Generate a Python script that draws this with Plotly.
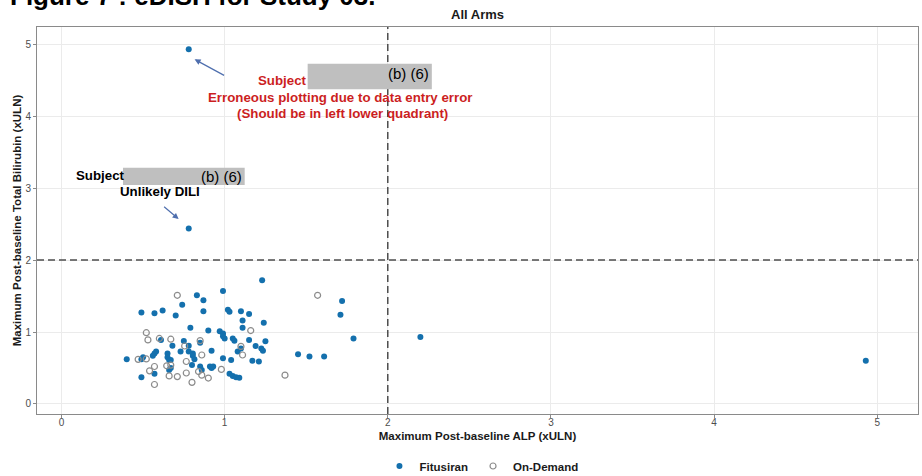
import plotly.graph_objects as go

# ---- data ----
fit_alp = [0.78, 0.78, 4.93, 2.20, 1.23, 0.99, 0.83, 0.87, 0.74, 0.49, 0.57, 0.62, 0.70, 0.87,
           1.02, 1.03, 1.10, 1.15, 1.11, 1.11, 1.24, 0.79, 0.90, 0.97, 0.99, 0.99, 1.00, 1.05,
           1.06, 1.15, 1.25, 0.61, 0.75, 0.68, 0.85, 0.78, 1.19, 1.225, 1.235, 1.08, 1.10, 0.92,
           0.73, 0.78, 0.805, 0.58, 0.57, 0.56, 0.65, 0.65, 0.66, 0.67, 0.40, 0.50, 0.49, 0.99,
           1.04, 1.17, 1.21, 0.805, 0.815, 0.80, 0.85, 0.86, 0.91, 0.92, 0.93, 0.66, 0.67, 1.03,
           1.05, 1.07, 1.09, 0.49, 0.57, 1.72, 1.71, 1.79, 1.45, 1.52, 1.61]
fit_tbl = [4.93, 2.44, 0.60, 0.93, 1.72, 1.57, 1.51, 1.44, 1.38, 1.27, 1.26, 1.30, 1.23, 1.29,
           1.31, 1.28, 1.29, 1.25, 1.16, 1.06, 1.13, 1.06, 1.02, 1.01, 0.98, 0.94, 0.91, 0.91,
           0.88, 0.89, 0.87, 0.89, 0.875, 0.81, 0.85, 0.81, 0.805, 0.77, 0.74, 0.73, 0.77, 0.74,
           0.73, 0.73, 0.70, 0.73, 0.70, 0.67, 0.70, 0.65, 0.61, 0.61, 0.62, 0.65, 0.62, 0.635,
           0.61, 0.60, 0.59, 0.67, 0.62, 0.54, 0.52, 0.47, 0.52, 0.50, 0.52, 0.47, 0.50, 0.42,
           0.39, 0.37, 0.365, 0.37, 0.42, 1.43, 1.24, 0.91, 0.69, 0.66, 0.66]

od_alp = [0.71, 1.57, 0.52, 0.53, 0.60, 0.67, 0.85, 1.16, 0.755, 1.10, 1.11, 0.47, 0.52, 0.86,
          0.765, 0.57, 0.54, 0.645, 0.67, 0.98, 0.66, 0.71, 0.765, 0.84, 0.86, 0.90, 0.80, 0.57, 1.37]
od_tbl = [1.51, 1.51, 0.99, 0.89, 0.91, 0.90, 0.88, 1.02, 0.805, 0.80, 0.68, 0.62, 0.625, 0.68,
          0.59, 0.52, 0.46, 0.53, 0.54, 0.48, 0.39, 0.38, 0.43, 0.45, 0.40, 0.36, 0.30, 0.27, 0.40]

x_ticks = [0, 1, 2, 3, 4, 5]
y_ticks = [0, 1, 2, 3, 4, 5]
alp_cut = 2
tbl_cut = 2

FONT = "Liberation Sans, Arial, sans-serif"
BLUE = "#1470ad"
GREY_PT = "#8c8c8c"
RED = "#cc1f1f"

fig = go.Figure()
fig.add_trace(go.Scatter(x=fit_alp, y=fit_tbl, mode="markers", name="Fitusiran",
                         marker=dict(symbol="circle", size=6, color=BLUE)))
fig.add_trace(go.Scatter(x=od_alp, y=od_tbl, mode="markers", name="On-Demand",
                         marker=dict(symbol="circle-open", size=6, color=GREY_PT,
                                     line=dict(width=1.2, color=GREY_PT))))

# reference lines
fig.add_shape(type="line", xref="x", yref="paper", x0=alp_cut, x1=alp_cut, y0=0, y1=1,
              line=dict(color="#4d4d4d", width=1.5, dash="7px,4px"), layer="above")
fig.add_shape(type="line", xref="paper", yref="y", x0=0, x1=1, y0=tbl_cut, y1=tbl_cut,
              line=dict(color="#4d4d4d", width=1.5, dash="7px,4px"), layer="above")

# redaction boxes
fig.add_shape(type="rect", xref="x", yref="y", x0=1.509, x1=2.270, y0=4.375, y1=4.73,
              fillcolor="#bfbfbf", line=dict(width=0), layer="above")
fig.add_shape(type="rect", xref="x", yref="y", x0=0.377, x1=1.123, y0=3.042, y1=3.285,
              fillcolor="#bfbfbf", line=dict(width=0), layer="above")

ann = []
# arrows
ann.append(dict(x=0.816, y=4.79, ax=1.006, ay=4.556, xref="x", yref="y", axref="x", ayref="y",
                showarrow=True, arrowhead=2, arrowsize=1, arrowwidth=1.2, arrowcolor="#4f6fae", text=""))
ann.append(dict(x=0.718, y=2.57, ax=0.62, ay=2.76, xref="x", yref="y", axref="x", ayref="y",
                showarrow=True, arrowhead=2, arrowsize=1, arrowwidth=1.2, arrowcolor="#4f6fae", text=""))
# red texts
ann.append(dict(x=1.190, y=4.50, xref="x", yref="y", text="Subject", showarrow=False,
                xanchor="left", yanchor="middle",
                font=dict(family=FONT, size=13.3, color=RED, weight="bold")))
ann.append(dict(x=2.264, y=4.59, xref="x", yref="y", text="(b) (6)", showarrow=False,
                xanchor="right", yanchor="middle",
                font=dict(family=FONT, size=15, color="#000000")))
ann.append(dict(x=1.706, y=4.264, xref="x", yref="y", text="Erroneous plotting due to data entry error",
                showarrow=False, xanchor="center", yanchor="middle",
                font=dict(family=FONT, size=13.3, color=RED, weight="bold")))
ann.append(dict(x=1.724, y=4.04, xref="x", yref="y", text="(Should be in left lower quadrant)",
                showarrow=False, xanchor="center", yanchor="middle",
                font=dict(family=FONT, size=13.3, color=RED, weight="bold")))
# black texts
ann.append(dict(x=0.075, y=3.18, xref="x", yref="y", text="Subject", showarrow=False,
                xanchor="left", yanchor="middle",
                font=dict(family=FONT, size=13.3, color="#000000", weight="bold")))
ann.append(dict(x=1.117, y=3.167, xref="x", yref="y", text="(b) (6)", showarrow=False,
                xanchor="right", yanchor="middle",
                font=dict(family=FONT, size=15, color="#000000")))
ann.append(dict(x=0.601, y=2.958, xref="x", yref="y", text="Unlikely DILI", showarrow=False,
                xanchor="center", yanchor="middle",
                font=dict(family=FONT, size=13.3, color="#000000", weight="bold")))
# cut-off figure caption at the very top
ann.append(dict(x=-0.033, y=1.081, xref="paper", yref="paper", text="Figure 7 : eDISH for Study 03.",
                showarrow=False, xanchor="left", yanchor="middle",
                font=dict(family=FONT, size=26, color="#000000", weight="bold")))

fig.update_layout(
    width=922, height=476,
    margin=dict(l=37, r=4, t=27, b=62),
    paper_bgcolor="white", plot_bgcolor="white",
    font=dict(family=FONT, color="#1a1a1a"),
    title=dict(text="All Arms", x=0.5, xref="paper", y=1 - 14 / 476, yref="container",
               xanchor="center", yanchor="middle",
               font=dict(family=FONT, size=13, color="#1a1a1a", weight="bold")),
    showlegend=True,
    legend=dict(orientation="h", x=0.5045, xanchor="center", xref="paper",
                y=1 - 466 / 476, yanchor="middle", yref="container",
                font=dict(family=FONT, size=11.5, color="#1a1a1a", weight="bold"),
                bgcolor="rgba(0,0,0,0)"),
    annotations=ann,
)
fig.update_xaxes(range=[-0.15, 5.25], tickvals=x_ticks, ticks="outside", ticklen=3,
                 tickcolor="#8a8a8a", tickfont=dict(family=FONT, size=10, color="#4d4d4d"),
                 ticklabelstandoff=-4,
                 showgrid=True, gridcolor="#ebebeb", gridwidth=1, zeroline=False,
                 showline=True, linecolor="#8a8a8a", linewidth=1, mirror=True,
                 title=dict(text="Maximum Post-baseline ALP (xULN)", standoff=4,
                            font=dict(family=FONT, size=11.5, color="#1a1a1a", weight="bold")),
                 automargin=False)
fig.update_yaxes(range=[-0.14, 5.24], tickvals=y_ticks, ticks="outside", ticklen=3,
                 tickcolor="#8a8a8a", tickfont=dict(family=FONT, size=10, color="#4d4d4d"),
                 showgrid=True, gridcolor="#ebebeb", gridwidth=1, zeroline=False,
                 showline=True, linecolor="#8a8a8a", linewidth=1, mirror=True,
                 title=dict(text="Maximum Post-baseline Total Bilirubin (xULN)", standoff=1,
                            font=dict(family=FONT, size=11.5, color="#1a1a1a", weight="bold")),
                 automargin=False)

fig.write_html("out.html")
